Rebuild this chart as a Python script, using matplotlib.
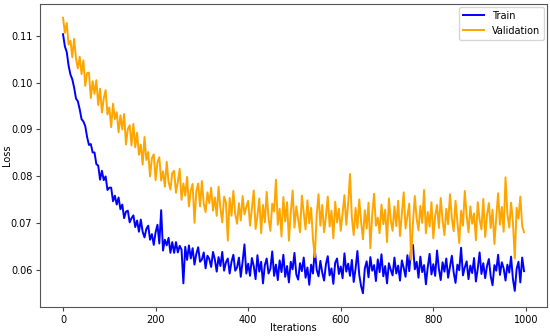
#!/usr/bin/env python3
"""
Training / validation loss curve (loss vs iterations)
"""

import numpy as np
import matplotlib
matplotlib.use("Agg")
import matplotlib.pyplot as plt

# iterations sampled every 4 steps
iterations = np.arange(0, 1000, 4)

train_loss = [
    0.1103, 0.1077, 0.1065, 0.1036, 0.1017, 0.1007, 0.0989, 0.0966, 0.0960, 0.0943,
    0.0922, 0.0917, 0.0907, 0.0884, 0.0867, 0.0869, 0.0851, 0.0851, 0.0826, 0.0823,
    0.0793, 0.0812, 0.0792, 0.0800, 0.0771, 0.0776, 0.0776, 0.0747, 0.0759, 0.0740,
    0.0755, 0.0730, 0.0740, 0.0711, 0.0725, 0.0727, 0.0702, 0.0711, 0.0717, 0.0692,
    0.0706, 0.0682, 0.0708, 0.0682, 0.0670, 0.0688, 0.0695, 0.0665, 0.0677, 0.0654,
    0.0681, 0.0697, 0.0657, 0.0728, 0.0642, 0.0665, 0.0653, 0.0669, 0.0637, 0.0660,
    0.0637, 0.0660, 0.0638, 0.0652, 0.0644, 0.0572, 0.0650, 0.0622, 0.0653, 0.0625,
    0.0647, 0.0612, 0.0635, 0.0649, 0.0618, 0.0623, 0.0638, 0.0604, 0.0631, 0.0624,
    0.0607, 0.0639, 0.0623, 0.0597, 0.0628, 0.0609, 0.0639, 0.0599, 0.0617, 0.0625,
    0.0593, 0.0618, 0.0633, 0.0599, 0.0606, 0.0627, 0.0586, 0.0619, 0.0655, 0.0593,
    0.0614, 0.0588, 0.0626, 0.0609, 0.0581, 0.0632, 0.0597, 0.0618, 0.0572, 0.0611,
    0.0625, 0.0593, 0.0603, 0.0640, 0.0588, 0.0612, 0.0579, 0.0621, 0.0596, 0.0633,
    0.0586, 0.0609, 0.0574, 0.0618, 0.0602, 0.0637, 0.0591, 0.0580, 0.0615, 0.0598,
    0.0627, 0.0584, 0.0606, 0.0569, 0.0612, 0.0593, 0.0644, 0.0601, 0.0587, 0.0620,
    0.0595, 0.0578, 0.0613, 0.0630, 0.0589, 0.0604, 0.0571, 0.0616, 0.0625, 0.0592,
    0.0608, 0.0583, 0.0636, 0.0597, 0.0614, 0.0588, 0.0622, 0.0575, 0.0603, 0.0641,
    0.0590, 0.0566, 0.0551, 0.0604, 0.0619, 0.0585, 0.0628, 0.0599, 0.0611, 0.0577,
    0.0623, 0.0596, 0.0634, 0.0587, 0.0609, 0.0572, 0.0615, 0.0601, 0.0589, 0.0627,
    0.0593, 0.0610, 0.0578, 0.0621, 0.0605, 0.0586, 0.0632, 0.0598, 0.0647, 0.0654,
    0.0602, 0.0618, 0.0584, 0.0629, 0.0596, 0.0611, 0.0570, 0.0607, 0.0635, 0.0591,
    0.0613, 0.0588, 0.0642, 0.0603, 0.0579, 0.0617, 0.0597, 0.0625, 0.0584, 0.0608,
    0.0631, 0.0595, 0.0573, 0.0612, 0.0600, 0.0648, 0.0589, 0.0606, 0.0619, 0.0581,
    0.0610, 0.0594, 0.0626, 0.0576, 0.0603, 0.0638, 0.0592, 0.0615, 0.0583, 0.0609,
    0.0624, 0.0587, 0.0568, 0.0611, 0.0599, 0.0633, 0.0590, 0.0617, 0.0604, 0.0578,
    0.0612, 0.0595, 0.0629, 0.0581, 0.0556, 0.0603, 0.0618, 0.0574, 0.0627, 0.0598,
]

val_loss = [
    0.1138, 0.1106, 0.1127, 0.1081, 0.1089, 0.1054, 0.1093, 0.1051, 0.1030, 0.1055,
    0.1018, 0.1047, 0.0993, 0.1020, 0.1021, 0.0967, 0.1003, 0.0976, 0.1005, 0.0952,
    0.0987, 0.0936, 0.0966, 0.0984, 0.0932, 0.0947, 0.0905, 0.0955, 0.0922, 0.0937,
    0.0894, 0.0930, 0.0900, 0.0933, 0.0868, 0.0901, 0.0909, 0.0866, 0.0912, 0.0862,
    0.0893, 0.0846, 0.0868, 0.0825, 0.0884, 0.0835, 0.0852, 0.0800, 0.0839, 0.0847,
    0.0792, 0.0830, 0.0841, 0.0791, 0.0811, 0.0778, 0.0831, 0.0788, 0.0772, 0.0807,
    0.0812, 0.0765, 0.0788, 0.0816, 0.0750, 0.0785, 0.0759, 0.0799, 0.0736, 0.0770,
    0.0784, 0.0701, 0.0769, 0.0785, 0.0736, 0.0790, 0.0742, 0.0724, 0.0766, 0.0743,
    0.0776, 0.0727, 0.0755, 0.0716, 0.0778, 0.0732, 0.0702, 0.0757, 0.0744, 0.0663,
    0.0754, 0.0716, 0.0769, 0.0720, 0.0699, 0.0743, 0.0706, 0.0758, 0.0719, 0.0735,
    0.0748, 0.0695, 0.0731, 0.0770, 0.0688, 0.0716, 0.0753, 0.0679, 0.0739, 0.0702,
    0.0767, 0.0710, 0.0684, 0.0742, 0.0725, 0.0793, 0.0697, 0.0731, 0.0672, 0.0756,
    0.0704, 0.0745, 0.0663, 0.0722, 0.0770, 0.0691, 0.0736, 0.0708, 0.0681, 0.0759,
    0.0722, 0.0687, 0.0749, 0.0700, 0.0733, 0.0666, 0.0628, 0.0718, 0.0762, 0.0695,
    0.0739, 0.0681, 0.0715, 0.0757, 0.0693, 0.0727, 0.0668, 0.0746, 0.0702, 0.0731,
    0.0684, 0.0722, 0.0760, 0.0697, 0.0741, 0.0805, 0.0712, 0.0675, 0.0733, 0.0690,
    0.0751, 0.0703, 0.0666, 0.0728, 0.0689, 0.0744, 0.0647, 0.0719, 0.0763, 0.0695,
    0.0712, 0.0679, 0.0740, 0.0698, 0.0729, 0.0660, 0.0753, 0.0707, 0.0684, 0.0736,
    0.0694, 0.0748, 0.0673, 0.0720, 0.0766, 0.0689, 0.0715, 0.0742, 0.0622, 0.0701,
    0.0758, 0.0710, 0.0685, 0.0737, 0.0701, 0.0771, 0.0679, 0.0724, 0.0693, 0.0745,
    0.0668, 0.0716, 0.0739, 0.0690, 0.0754, 0.0706, 0.0675, 0.0731, 0.0698, 0.0762,
    0.0711, 0.0683, 0.0748, 0.0702, 0.0658, 0.0727, 0.0695, 0.0769, 0.0716, 0.0681,
    0.0736, 0.0699, 0.0721, 0.0664, 0.0745, 0.0708, 0.0687, 0.0752, 0.0671, 0.0718,
    0.0743, 0.0690, 0.0729, 0.0656, 0.0713, 0.0764, 0.0697, 0.0735, 0.0682, 0.0798,
    0.0720, 0.0691, 0.0744, 0.0702, 0.0625, 0.0733, 0.0710, 0.0757, 0.0694, 0.0681,
]

fig = plt.figure(figsize=(5.5, 3.36), dpi=100)
ax = fig.add_axes([0.0727, 0.0863, 0.922, 0.9017])

ax.plot(iterations, train_loss, color='blue', linewidth=1.4, label='Train')
ax.plot(iterations, val_loss, color='orange', linewidth=1.4, label='Validation')

ax.set_xlabel('Iterations', fontsize=7)
ax.set_ylabel('Loss', fontsize=7)
ax.xaxis.set_label_coords(0.5, -0.052)
ax.yaxis.set_label_coords(-0.056, 0.5)
ax.tick_params(labelsize=7, length=3, color='#444444', pad=2.5)
ax.set_xticks([0, 200, 400, 600, 800, 1000])
ax.set_yticks([0.06, 0.07, 0.08, 0.09, 0.10, 0.11])
ax.set_yticklabels(['0.06', '0.07', '0.08', '0.09', '0.10', '0.11'])
for s in ax.spines.values():
    s.set_color('#555555')

ax.legend(loc='upper right', fontsize=7, handlelength=2.2, borderaxespad=0.3)

plt.savefig('out.png', dpi=100)
